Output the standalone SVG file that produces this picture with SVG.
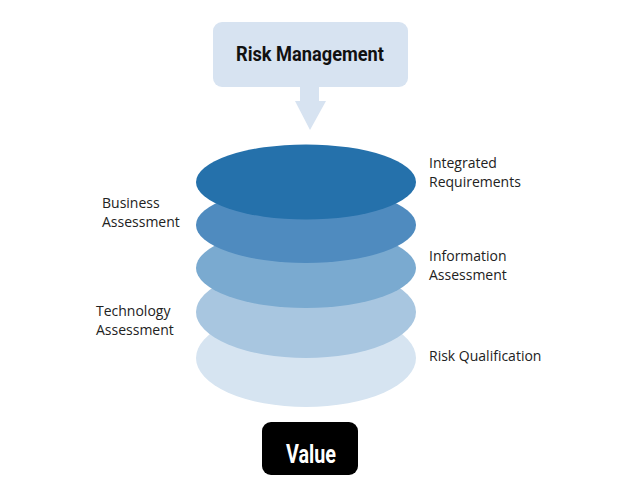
<svg xmlns="http://www.w3.org/2000/svg" width="639" height="500" viewBox="0 0 639 500">
<style>
.lbl{font-family:"Open Sans","Noto Sans","DejaVu Sans",sans-serif;font-size:14px;fill:#222}
.hd{font-family:Roboto,"Liberation Sans",sans-serif;font-weight:bold}
</style>
<rect width="639" height="500" fill="#fff"/>
<g id="risk-management">
<rect x="213" y="22" width="195" height="65" rx="9" fill="#d7e3f1"/>
<text class="hd" x="310" y="61" font-size="20" text-anchor="middle" fill="#111" textLength="148" lengthAdjust="spacingAndGlyphs">Risk Management</text>
</g>
<g id="connectors">
<polygon points="300,87 319,87 319,101 326,101 310,130 295,101 300,101" fill="#d7e3f1"/>
</g>
<g id="layer-risk-qualification">
<ellipse cx="306" cy="358" rx="110" ry="49" fill="#d6e4f1"/>
</g>
<g id="layer-technology">
<ellipse cx="306" cy="312" rx="110" ry="46" fill="#a8c6e0"/>
</g>
<g id="layer-information">
<ellipse cx="306" cy="268" rx="110" ry="40" fill="#7aaad0"/>
</g>
<g id="layer-business">
<ellipse cx="306" cy="225" rx="110" ry="38" fill="#4f8bbf"/>
</g>
<g id="layer-integrated">
<ellipse cx="306" cy="182" rx="110" ry="37.5" fill="#2571ab"/>
</g>
<g id="labels">
<text class="lbl" x="429" y="168">Integrated</text>
<text class="lbl" x="429" y="187">Requirements</text>
<text class="lbl" x="429" y="261">Information</text>
<text class="lbl" x="429" y="280">Assessment</text>
<text class="lbl" x="429" y="361">Risk Qualification</text>
<text class="lbl" x="102" y="208">Business</text>
<text class="lbl" x="102" y="227">Assessment</text>
<text class="lbl" x="96" y="316">Technology</text>
<text class="lbl" x="96" y="335">Assessment</text>
</g>
<g id="value">
<rect x="262" y="422" width="96" height="53" rx="9" fill="#000"/>
<text class="hd" x="311" y="463" font-size="26" text-anchor="middle" fill="#fff" textLength="50" lengthAdjust="spacingAndGlyphs">Value</text>
</g>
</svg>
